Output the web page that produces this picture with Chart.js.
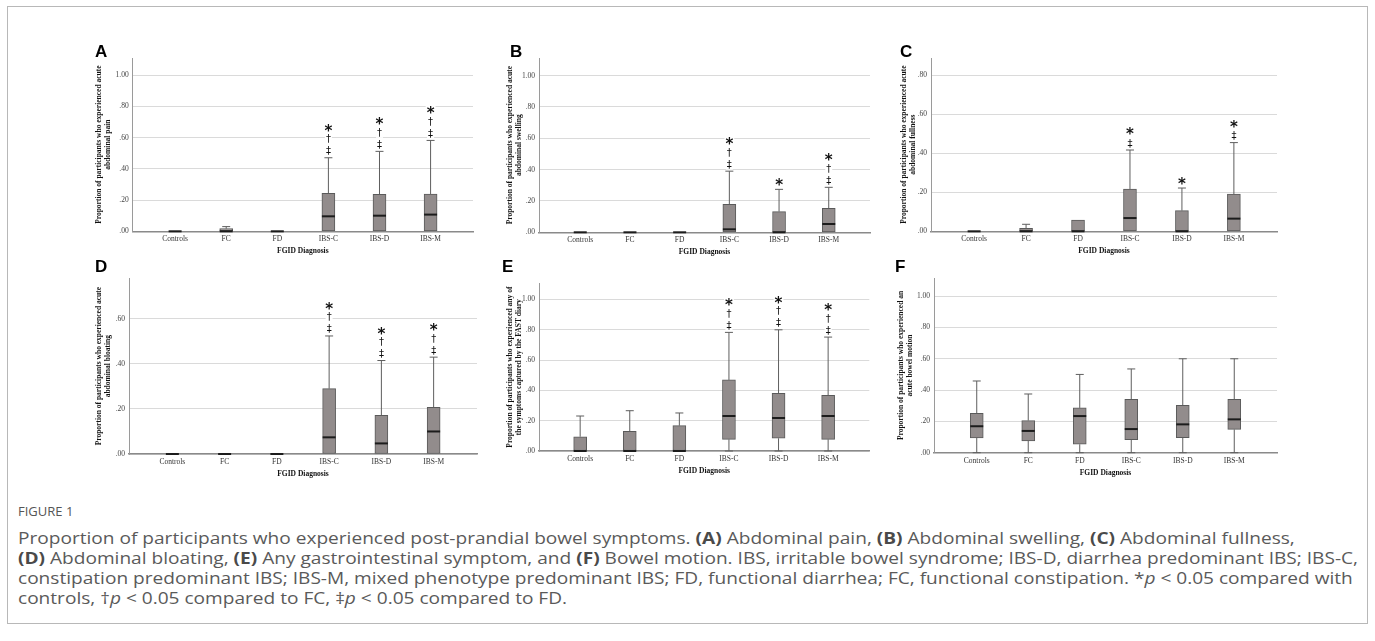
<!DOCTYPE html>
<html><head><meta charset="utf-8">
<script src="https://cdn.jsdelivr.net/npm/chart.js@4.4.1/dist/chart.umd.min.js"></script>
<style>
html,body{margin:0;padding:0;background:#fff;}
body{width:1375px;height:641px;overflow:hidden;position:relative;}
#frame{position:absolute;left:7px;top:6px;width:1361px;height:618px;border:1px solid #b8b8b8;box-sizing:border-box;}
canvas{position:absolute;}
.letter{position:absolute;font:bold 17px "Liberation Sans",Arial,sans-serif;line-height:17px;color:#000;}
.fig{position:absolute;left:18px;font:13px "Open Sans",sans-serif;line-height:16px;color:#555;white-space:nowrap;}
.cap{position:absolute;left:18px;font-family:"Open Sans",sans-serif;font-size:15.5px;line-height:20px;color:#5a5a5a;white-space:nowrap;transform-origin:0 0;}
.cap b{font-weight:700;color:#4a4a4a;}
</style></head><body>
<div id="frame"></div>
<script>
// ---------- data ----------
const categories = ["Controls","FC","FD","IBS-C","IBS-D","IBS-M"];
const yTickLabels = [".00",".20",".40",".60",".80","1.00"];
const yTitleLead = "Proportion of participants who experienced acute";

// A: abdominal pain
const painMin = [0,0,0,0,0,0];
const painQ1  = [0,0,0,0,0,0];
const painMed = [0,0,0,0.096,0.100,0.107];
const painQ3  = [0,0.017,0,0.243,0.237,0.239];
const painMax = [0,0.030,0,0.471,0.512,0.582];
const painSig = ["","","","*†‡","*†‡","*†‡"];

// B: abdominal swelling
const swellMin = [0,0,0,0,0,0];
const swellQ1  = [0,0,0,0,0,0];
const swellMed = [0,0,0,0.019,0,0.053];
const swellQ3  = [0,0,0,0.179,0.132,0.153];
const swellMax = [0,0,0,0.390,0.274,0.287];
const swellSig = ["","","","*†‡","*","*†‡"];

// C: abdominal fullness
const fullMin = [0,0,0,0,0,0];
const fullQ1  = [0,0,0,0,0,0];
const fullMed = [0,0,0,0.068,0,0.065];
const fullQ3  = [0,0.015,0.058,0.217,0.106,0.191];
const fullMax = [0,0.036,0.058,0.417,0.222,0.455];
const fullSig = ["","","","*‡","*","*‡"];

// D: abdominal bloating
const bloatMin = [0,0,0,0,0,0];
const bloatQ1  = [0,0,0,0,0,0];
const bloatMed = [0,0,0,0.074,0.047,0.100];
const bloatQ3  = [0,0,0,0.290,0.172,0.207];
const bloatMax = [0,0,0,0.524,0.415,0.430];
const bloatSig = ["","","","*†‡","*†‡","*†‡"];

// E: any symptom
const anyMin = [0,0,0,0,0,0];
const anyQ1  = [0,0,0,0.077,0.084,0.077];
const anyMed = [0,0,0,0.231,0.218,0.231];
const anyQ3  = [0.094,0.130,0.167,0.469,0.381,0.367];
const anyMax = [0.231,0.266,0.251,0.783,0.800,0.752];
const anySig = ["","","","*†‡","*†‡","*†‡"];

// F: bowel motion
const bowelMin = [0,0,0,0,0,0];
const bowelQ1  = [0.094,0.075,0.054,0.083,0.096,0.149];
const bowelMed = [0.169,0.139,0.234,0.151,0.181,0.213];
const bowelQ3  = [0.252,0.205,0.286,0.341,0.303,0.341];
const bowelMax = [0.458,0.375,0.500,0.535,0.600,0.600];
const bowelSig = ["","","","","",""];

// ---------- layout ----------
const panels = [
  {L:'A', lx:95, ly:43,  left:132.7, right:473,   top:58,    bottom:231.3, titleX:99.5,  ymax:1.11,
   title:[yTitleLead,"abdominal pain"], min:painMin,q1:painQ1,med:painMed,q3:painQ3,max:painMax,sig:painSig},
  {L:'B', lx:510, ly:43, left:539,   right:870,   top:58,    bottom:232.3, titleX:510.5, ymax:1.112,
   title:[yTitleLead,"abdominal swelling"], min:swellMin,q1:swellQ1,med:swellMed,q3:swellQ3,max:swellMax,sig:swellSig},
  {L:'C', lx:900, ly:43, left:931,   right:1277,  top:58,    bottom:231.3, titleX:904,   ymax:0.889,
   title:[yTitleLead,"abdominal fullness"], min:fullMin,q1:fullQ1,med:fullMed,q3:fullQ3,max:fullMax,sig:fullSig},
  {L:'D', lx:95, ly:258, left:129,   right:477,   top:278.3, bottom:454,   titleX:99.5,  ymax:0.78,
   title:[yTitleLead,"abdominal bloating"], min:bloatMin,q1:bloatQ1,med:bloatMed,q3:bloatQ3,max:bloatMax,sig:bloatSig},
  {L:'E', lx:502, ly:258, left:539,  right:869.3, top:283.3, bottom:451,   titleX:510.5, ymax:1.107,
   title:["Proportion of participants who experienced any of","the symptoms captured by the FAST diary"], min:anyMin,q1:anyQ1,med:anyMed,q3:anyQ3,max:anyMax,sig:anySig},
  {L:'F', lx:895, ly:258, left:934,  right:1277,  top:278.3, bottom:452.7, titleX:901,   ymax:1.114,
   title:["Proportion of participants who experienced an","acute bowel motion"], min:bowelMin,q1:bowelQ1,med:bowelMed,q3:bowelQ3,max:bowelMax,sig:bowelSig}
];

const SERIF = '"Liberation Serif","Times New Roman",serif';

function boxPlugin(p){
  return {
    id:'boxw'+p.L,
    afterDatasetsDraw(chart){
      const ctx = chart.ctx, xs = chart.scales.x, ys = chart.scales.y;
      ctx.save();
      categories.forEach((c,i)=>{
        const x = xs.getPixelForValue(i);
        const yq1 = ys.getPixelForValue(p.q1[i]), yq3 = ys.getPixelForValue(p.q3[i]);
        const ymn = ys.getPixelForValue(p.min[i]), ymx = ys.getPixelForValue(p.max[i]);
        const ymd = ys.getPixelForValue(p.med[i]);
        ctx.strokeStyle = '#5e5e5e'; ctx.lineWidth = 1;
        if (p.max[i] > p.q3[i]) {
          ctx.beginPath(); ctx.moveTo(x, yq3); ctx.lineTo(x, ymx);
          ctx.moveTo(x-4, ymx); ctx.lineTo(x+4, ymx); ctx.stroke();
        }
        if (p.min[i] < p.q1[i]) {
          ctx.beginPath(); ctx.moveTo(x, yq1); ctx.lineTo(x, ymn);
          ctx.moveTo(x-4, ymn); ctx.lineTo(x+4, ymn); ctx.stroke();
        }
        ctx.strokeStyle = '#1c1c1c'; ctx.lineWidth = 2;
        ctx.beginPath(); ctx.moveTo(x-6.5, ymd); ctx.lineTo(x+6.5, ymd); ctx.stroke();
        // significance symbols, stacked bottom-up above the upper whisker
        const order = ['‡','†','*'].filter(s => p.sig[i].includes(s));
        const offs = [7,19,30];
        order.forEach((s,k)=>{
          const cy = ymx - offs[k];
          ctx.font = s === '*' ? 'bold 15px "DejaVu Sans",sans-serif' : '10px "DejaVu Sans",sans-serif';
          const m = ctx.measureText(s);
          const asc = m.actualBoundingBoxAscent, desc = m.actualBoundingBoxDescent;
          const w = m.width;
          ctx.fillStyle = '#fff';
          ctx.fillRect(x - w/2 - 1, cy - (asc+desc)/2 - 1, w + 2, asc + desc + 2);
          ctx.fillStyle = '#111';
          ctx.textAlign = 'center'; ctx.textBaseline = 'alphabetic';
          ctx.fillText(s, x, cy + (asc - desc)/2);
        });
      });
      ctx.restore();
    }
  };
}

function build(p){
  const Lc = Math.floor(p.titleX - 8), Tc = Math.floor(p.top - 16);
  const Rc = Math.ceil(p.right + 6), Bc = Math.ceil(p.bottom + 30);
  const xh = 24.5, yw = p.left - Lc;
  const c = document.createElement('canvas');
  c.width = Rc - Lc; c.height = Bc - Tc;
  c.style.left = Lc + 'px'; c.style.top = Tc + 'px';
  c.style.width = (Rc - Lc) + 'px'; c.style.height = (Bc - Tc) + 'px';
  document.body.appendChild(c);
  new Chart(c, {
    type:'bar',
    data:{datasets:[{
      data: categories.map((_,i)=>({x:i, y:[p.q1[i], p.q3[i]]})),
      backgroundColor:'#928c8c',
      borderColor:'#5a5a5a',
      borderWidth: ctx => (p.q3[ctx.dataIndex] - p.q1[ctx.dataIndex] > 0 ? 1 : 0),
      borderSkipped:false,
      barThickness:13
    }]},
    options:{
      responsive:false, animation:false, devicePixelRatio:1,
      layout:{padding:{left:0, top:p.top - Tc, right:Rc - p.right, bottom:Bc - (p.bottom + xh)}},
      plugins:{legend:{display:false}, tooltip:{enabled:false}},
      scales:{
        x:{
          type:'linear', min:-0.83, max:5.83, offset:false,
          grid:{display:false, drawTicks:false, offset:false},
          border:{display:true, color:'#8a8a8a', width:1.5},
          afterBuildTicks: s => { s.ticks = categories.map((_,i)=>({value:i})); },
          ticks:{callback:(v)=>categories[v], font:{family:SERIF, size:7.5}, color:'#333', padding:3.5, autoSkip:false, maxRotation:0},
          title:{display:true, text:'FGID Diagnosis', font:{family:SERIF, size:7.5, weight:'bold', lineHeight:1.2}, color:'#111', padding:{top:0,bottom:0}},
          afterFit: s => { s.height = xh; }
        },
        y:{
          min:0, max:p.ymax,
          ticks:{stepSize:0.2, includeBounds:false, callback:(v)=>yTickLabels[Math.round(v/0.2)], font:{family:SERIF, size:7.5}, color:'#444', padding:4},
          grid:{color:'#dadada', lineWidth:1, drawTicks:false},
          border:{display:true, color:'#9a9a9a', width:1},
          title:{display:true, text:p.title, font:{family:SERIF, size:7.5, weight:'bold', lineHeight:1.2}, color:'#111', padding:{top:p.titleX - Lc - 4.5, bottom:0}},
          afterFit: s => { s.width = yw; }
        }
      }
    },
    plugins:[boxPlugin(p)]
  });
  const d = document.createElement('div');
  d.className = 'letter'; d.textContent = p.L;
  d.style.left = p.lx + 'px'; d.style.top = p.ly + 'px';
  document.body.appendChild(d);
}
panels.forEach(build);
</script>
<div class="fig" style="top:503px;">FIGURE 1</div>
<div class="cap" style="top:527.5px;">Proportion of participants who experienced post-prandial bowel symptoms. <b>(A)</b> Abdominal pain, <b>(B)</b> Abdominal swelling, <b>(C)</b> Abdominal fullness,</div>
<div class="cap" id="capRef" style="top:547.5px;"><b>(D)</b> Abdominal bloating, <b>(E)</b> Any gastrointestinal symptom, and <b>(F)</b> Bowel motion. IBS, irritable bowel syndrome; IBS-D, diarrhea predominant IBS; IBS-C,</div>
<div class="cap" style="top:567.5px;">constipation predominant IBS; IBS-M, mixed phenotype predominant IBS; FD, functional diarrhea; FC, functional constipation. *<i>p</i> &lt; 0.05 compared with</div>
<div class="cap" style="top:587.5px;">controls, †<i>p</i> &lt; 0.05 compared to FC, ‡<i>p</i> &lt; 0.05 compared to FD.</div>
<script>
function fitCaption(){
  const ref = document.getElementById('capRef');
  const w = ref.getBoundingClientRect().width / (ref._k || 1);
  const k = 1340 / w;
  document.querySelectorAll('.cap').forEach(el => { el._k = k; el.style.transform = 'scaleX(' + k + ')'; });
}
fitCaption();
</script>
</body></html>
